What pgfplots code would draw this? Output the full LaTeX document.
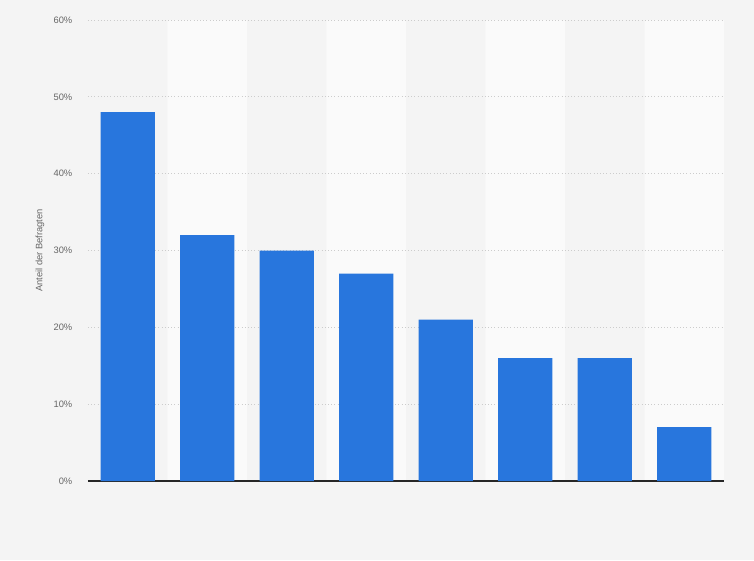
\documentclass[border=0pt]{standalone}
\usepackage{pgfplots}
\pgfplotsset{compat=1.18}
\usepackage{fontspec}
\setmainfont{Liberation Sans}
\definecolor{bg}{HTML}{F4F4F4}
\definecolor{band}{HTML}{FAFAFA}
\definecolor{barblue}{HTML}{2876DD}
\definecolor{txt}{HTML}{666666}
\definecolor{gridc}{HTML}{CCCCCC}
\begin{document}
\begin{tikzpicture}
\begin{axis}[
    set layers,
    scale only axis,
    width=477pt, height=345.75pt,
    xmin=0.5, xmax=8.5,
    ymin=0, ymax=60,
    ytick={0,10,20,30,40,50,60},
    xtick=\empty,
    axis x line=bottom,
    axis y line=left,
    y axis line style={draw=none},
    x axis line style={draw=black!85, line width=1pt, -},
    major tick length=0pt,
    ymajorgrids=true,
    grid style={gridc, dotted, line width=0.6pt},
    yticklabel={\pgfmathprintnumber{\tick}\%},
    /pgf/number format/assume math mode=true,
    yticklabel style={font=\fontsize{7}{8}\selectfont, text=txt, anchor=east, xshift=-8.25pt},
    ylabel={Anteil der Befragten},
    ylabel style={font=\fontsize{7}{8}\selectfont, text=txt, at={(axis description cs:-0.0755,0.5)}, anchor=center},
    clip=false,
]
% page background (754 x 560 px around the plot area)
\addplot[fill=bg, draw=none, forget plot, on layer=axis background] coordinates {
    (-0.6069,-10.282) (8.8774,-10.282) (8.8774,62.603) (-0.6069,62.603)
} -- cycle;
% alternating column bands
\addplot[ybar, bar width=1, fill=band, draw=none, forget plot, on layer=axis background] coordinates {
    (2,60) (4,60) (6,60) (8,60)
};
\addplot[ybar, bar width=0.68, fill=barblue, draw=none] coordinates {
    (1,48) (2,32) (3,30) (4,27) (5,21) (6,16) (7,16) (8,7)
};
\end{axis}
\end{tikzpicture}
\end{document}
